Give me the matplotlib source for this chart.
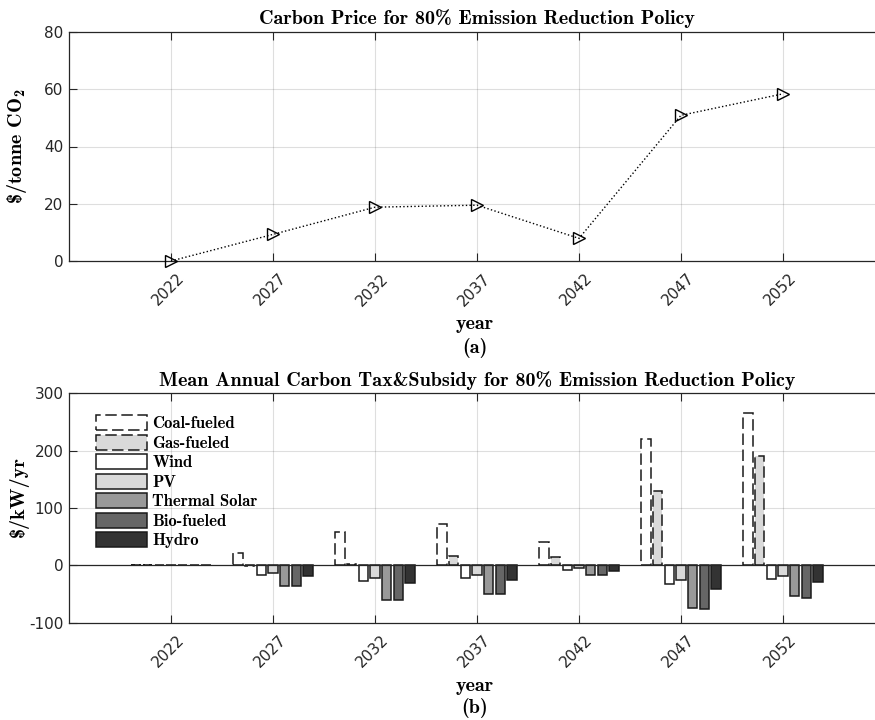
import matplotlib
matplotlib.use("Agg")
import matplotlib.pyplot as plt
import matplotlib.transforms as mtrans
import numpy as np

plt.rcParams['mathtext.fontset'] = 'custom'
plt.rcParams['mathtext.rm'] = 'cmb10'
plt.rcParams['mathtext.it'] = 'cmb10'
plt.rcParams['mathtext.bf'] = 'cmb10'
plt.rcParams['mathtext.default'] = 'rm'
plt.rcParams['font.family'] = 'DejaVu Sans'

# ---------------- data ----------------
years = [2022, 2027, 2032, 2037, 2042, 2047, 2052]
carbon_price = [0.0, 9.3, 18.8, 19.5, 7.9, 50.9, 58.4]

tech_names = ['Coal-fueled', 'Gas-fueled', 'Wind', 'PV', 'Thermal Solar', 'Bio-fueled', 'Hydro']
coal    = [0.0, 21.0, 57.3, 72.0, 40.7, 219.8, 266.0]
gas     = [0.0, -2.0, 2.3, 16.0, 14.0, 129.0, 190.7]
wind    = [0.0, -16.4, -27.5, -22.7, -7.6, -33.0, -24.4]
pv      = [0.0, -12.9, -21.6, -16.9, -5.2, -25.6, -19.2]
thermal = [0.0, -35.7, -60.8, -50.6, -16.9, -75.0, -54.0]
bio     = [0.0, -35.7, -60.8, -50.6, -16.9, -76.7, -56.4]
hydro   = [0.0, -18.1, -31.0, -25.0, -9.3, -41.3, -29.7]
series = [coal, gas, wind, pv, thermal, bio, hydro]

fills = ['#ffffff', '#d9d9d9', '#ffffff', '#d9d9d9', '#999999', '#666666', '#333333']
styles = [(0, (7.5, 3)), (0, (7.5, 3)), '-', '-', '-', '-', '-']

W, H = 875, 720
fig = plt.figure(figsize=(W / 100, H / 100), dpi=100)

ax_l, ax_r = 69, 885
def axpos(top, bottom):
    return [ax_l / W, 1 - bottom / H, (ax_r - ax_l) / W, (bottom - top) / H]

ax1 = fig.add_axes(axpos(32, 261))
ax2 = fig.add_axes(axpos(393.3, 622.7))

tc = '#262626'
serif = dict(family='cmb10')
FS = 14.5

def style_axes(ax):
    ax.set_xlim(2017, 2057)
    ax.set_xticks(years)
    ax.set_xticklabels([str(y) for y in years], rotation=45, ha='center', va='top')
    ax.tick_params(direction='in', length=6, width=0.8, colors=tc, labelsize=11,
                   top=True, right=True, pad=4)
    ax.tick_params(axis='x', pad=7)
    off = mtrans.ScaledTranslation(-3 / 100, 0, fig.dpi_scale_trans)
    for lab in ax.get_xticklabels():
        lab.set_transform(lab.get_transform() + off)
    for s in ax.spines.values():
        s.set_color(tc)
        s.set_linewidth(0.9)
    ax.grid(True, color=tc, alpha=0.15, linewidth=0.8)
    ax.set_axisbelow(True)

# ---------------- top ----------------
style_axes(ax1)
ax1.plot(years, carbon_price, linestyle=':', color='k', linewidth=1.0,
         marker='>', markersize=9, markerfacecolor='none', markeredgecolor='k',
         markeredgewidth=1.0, zorder=3, clip_on=False)
ax1.set_ylim(0, 80)
ax1.set_yticks([0, 20, 40, 60, 80])
ax1.set_title('Carbon Price for 80% Emission Reduction Policy', fontsize=FS, pad=5.5, **serif)
ax1.set_ylabel(r'\$/tonne CO$_2$', fontsize=FS, **serif)
ax1.yaxis.set_label_coords(-0.0487, 0.5)

# ---------------- bottom ----------------
style_axes(ax2)
n = len(series)
slot = 5 * 0.8 / n
bw = slot * 0.8
x = np.array(years, dtype=float)
for i, (vals, name, fc, ls) in enumerate(zip(series, tech_names, fills, styles)):
    ax2.bar(x + (i - (n - 1) / 2) * slot, vals, width=bw, color=fc, edgecolor='#1a1a1a',
            linewidth=1.1, linestyle=ls, label=name, zorder=3)
ax2.axhline(0, color=tc, linewidth=0.9, zorder=4)
ax2.set_ylim(-100, 300)
ax2.set_yticks([-100, 0, 100, 200, 300])
ax2.set_yticklabels(['-100', '0', '100', '200', '300'])
ax2.set_title('Mean Annual Carbon Tax&Subsidy for 80% Emission Reduction Policy',
              fontsize=FS, pad=5.5, **serif)
ax2.set_ylabel('$/kW/yr', fontsize=FS, **serif)
ax2.yaxis.set_label_coords(-0.0487, 0.549)
leg = ax2.legend(loc='upper left', bbox_to_anchor=(27 / 816, 1 - 22 / 229.4),
                 frameon=False, prop=dict(family='cmb10', size=12),
                 handlelength=3.05, handleheight=1.0, labelspacing=0.2,
                 handletextpad=0.34, borderaxespad=0, borderpad=0)

# x labels with sub-captions
for yy, txt in [(324, 'year'), (348.3, '(a)'), (686, 'year'), (708.3, '(b)')]:
    fig.text(475 / W, 1 - yy / H, txt, ha='center', va='center', fontsize=FS, **serif)

fig.savefig('out.png', dpi=100)
